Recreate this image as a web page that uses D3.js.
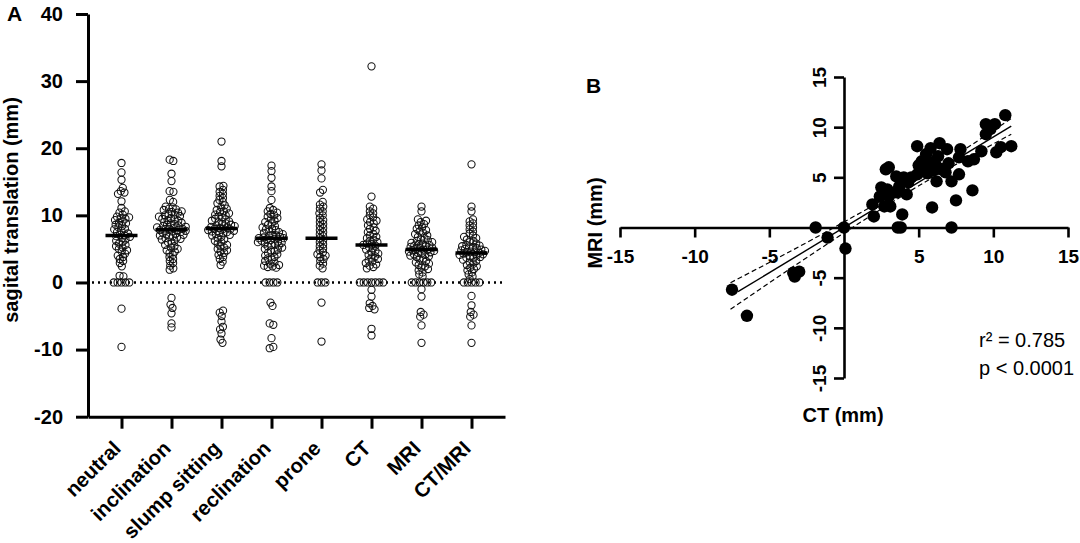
<!DOCTYPE html>
<html>
<head>
<meta charset="utf-8">
<script src="https://cdn.jsdelivr.net/npm/d3@7"></script>
<style>
  body { margin: 0; background: #fff; }
  svg { display: block; font-family: "Liberation Sans", Arial, sans-serif; }
</style>
</head>
<body>
<svg id="chart" width="1080" height="543"></svg>
<script>
// ---- panel A: sagittal translation per position ----
var groups = ["neutral", "inclination", "slump sitting", "reclination", "prone", "CT", "MRI", "CT/MRI"];

var neutral = [17.8, 16.4, 15.3, 14.1, 13.6, 13.4, 13.2, 12.1, 11.1, 10.6, 10.4, 10.1, 9.8, 9.7, 9.6, 9.5, 9.3, 9.1,
  8.9, 8.8, 8.6, 8.4, 8.2, 8.0, 7.9, 7.7, 7.5, 7.3, 7.1, 7.0, 6.9, 6.8, 6.6, 6.4, 6.2, 6.0, 5.8, 5.6, 5.4, 5.2,
  5.0, 4.8, 4.6, 4.3, 4.0, 3.8, 3.5, 3.2, 2.9, 2.4, 1.0, 0.9, 0, 0, 0, 0, 0, -3.9, -9.6];
var inclination = [18.3, 18.1, 16.2, 15.1, 13.6, 13.5, 12.3, 12.0, 11.3, 11.2, 11.0, 10.9, 10.8, 10.6, 10.5, 10.4,
  10.2, 10.1, 10.0, 9.9, 9.8, 9.6, 9.5, 9.4, 9.3, 9.2, 9.0, 8.9, 8.8, 8.7, 8.6, 8.5, 8.4, 8.3, 8.2, 8.1, 8.0, 8.0,
  7.9, 7.8, 7.8, 7.7, 7.6, 7.5, 7.4, 7.3, 7.2, 7.1, 7.0, 6.9, 6.8, 6.7, 6.6, 6.5, 6.4, 6.2, 6.0, 5.8, 5.6, 5.4,
  5.2, 5.0, 4.8, 4.6, 4.4, 4.1, 3.8, 3.5, 3.2, 2.9, 2.5, 2.1, 1.9, -2.3, -3.3, -3.8, -4.6, -6.1, -6.7];
var slump = [21.0, 18.1, 17.3, 14.4, 14.3, 13.8, 13.5, 13.2, 12.9, 12.6, 12.3, 12.0, 11.8, 11.5, 11.2, 11.0, 10.8,
  10.6, 10.5, 10.3, 10.1, 10.0, 9.8, 9.7, 9.5, 9.4, 9.2, 9.1, 9.0, 8.8, 8.7, 8.6, 8.5, 8.4, 8.3, 8.2, 8.1, 8.0,
  8.0, 7.9, 7.8, 7.7, 7.6, 7.5, 7.4, 7.3, 7.2, 7.1, 7.0, 6.8, 6.6, 6.4, 6.2, 6.0, 5.8, 5.6, 5.4, 5.2, 5.0, 4.8,
  4.6, 4.4, 4.1, 3.8, 3.5, 3.1, 2.6, -4.2, -4.5, -5.0, -5.8, -6.6, -7.0, -7.6, -8.5, -9.0];
var reclination = [17.4, 16.6, 15.6, 14.3, 13.6, 12.3, 11.1, 10.8, 10.6, 10.4, 10.2, 10.0, 9.8, 9.6, 9.4, 9.2, 9.0,
  8.8, 8.6, 8.4, 8.2, 8.0, 7.9, 7.8, 7.6, 7.5, 7.4, 7.2, 7.1, 7.0, 6.9, 6.8, 6.7, 6.6, 6.6, 6.5, 6.4, 6.3, 6.2,
  6.1, 6.0, 5.9, 5.8, 5.7, 5.6, 5.5, 5.4, 5.2, 5.0, 4.9, 4.8, 4.6, 4.4, 4.2, 4.0, 3.8, 3.6, 3.4, 3.2, 3.0, 2.8,
  2.6, 2.5, 2.4, 2.3, 2.2, 0, 0, 0, 0, -3.0, -3.5, -6.1, -6.3, -8.3, -9.6, -9.8];
var prone = [17.6, 16.7, 15.5, 13.8, 13.4, 12.0, 11.6, 11.3, 11.0, 10.6, 10.3, 10.0, 9.6, 9.3, 9.0, 8.7, 8.4, 8.1,
  7.8, 7.5, 7.2, 6.9, 6.6, 6.3, 6.0, 5.7, 5.4, 5.1, 4.8, 4.5, 4.2, 4.0, 3.8, 3.5, 3.2, 2.8, 2.5, 2.1, 0, 0, 0,
  -3.0, -8.8];
var ct = [32.2, 12.8, 11.3, 11.0, 10.6, 10.3, 10.0, 9.7, 9.4, 9.2, 9.0, 8.8, 8.5, 8.2, 8.0, 7.7, 7.5, 7.2, 7.0, 6.8,
  6.6, 6.4, 6.2, 6.0, 5.8, 5.7, 5.6, 5.5, 5.3, 5.1, 4.9, 4.7, 4.5, 4.3, 4.1, 3.9, 3.7, 3.5, 3.3, 3.1, 2.9, 2.7,
  2.5, 2.3, 2.1, 0, 0, 0, 0, 0, 0, 0, -1.1, -2.1, -3.1, -3.5, -3.8, -4.0, -6.9, -7.9];
var mri = [11.3, 10.6, 9.4, 9.2, 9.0, 8.7, 8.5, 8.2, 8.0, 7.8, 7.6, 7.4, 7.2, 7.0, 6.8, 6.6, 6.4, 6.3, 6.2, 6.0,
  5.9, 5.8, 5.7, 5.6, 5.5, 5.4, 5.3, 5.2, 5.1, 5.0, 4.9, 4.9, 4.8, 4.7, 4.6, 4.5, 4.4, 4.3, 4.2, 4.1, 4.0, 3.9,
  3.8, 3.6, 3.4, 3.2, 3.0, 2.8, 2.6, 2.4, 2.2, 2.0, 1.8, 1.5, 1.2, 0.9, 0, 0, 0, 0, 0, 0, -1.0, -2.1, -4.4,
  -4.8, -5.1, -6.4, -9.0];
var ctMri = [17.6, 11.3, 10.6, 9.4, 9.1, 8.8, 8.5, 8.2, 7.9, 7.6, 7.3, 7.0, 6.8, 6.6, 6.4, 6.2, 6.0, 5.8, 5.6, 5.5,
  5.4, 5.3, 5.2, 5.1, 5.0, 4.9, 4.8, 4.7, 4.6, 4.5, 4.5, 4.4, 4.3, 4.2, 4.1, 4.0, 3.9, 3.8, 3.7, 3.6, 3.4, 3.2,
  3.0, 2.8, 2.6, 2.4, 2.2, 2.0, 1.8, 1.5, 1.2, 0.9, 0.5, 0, 0, 0, 0, 0, -2.0, -3.4, -4.4, -4.8, -5.1, -6.4, -9.0];

var groupValues = [neutral, inclination, slump, reclination, prone, ct, mri, ctMri];
var medians = [7.0, 7.85, 8.05, 6.6, 6.6, 5.6, 4.9, 4.4];
var yTicksA = [40, 30, 20, 10, 0, -10, -20];

// ---- panel B: CT vs MRI ----
var ctX = [-7.5, -6.5, -3.4, -3.0, -3.3, -1.9, -1.1, 0, 0.1,
  2.0, 1.9, 2.7, 3.1, 2.4, 3.0, 3.5, 4.2, 2.5, 2.9, 3.7, 4.3, 3.5, 4.0, 4.5, 4.9, 2.8, 3.0, 3.9, 3.6, 3.8, 7.2,
  5.9, 7.5, 8.6,
  4.9, 5.2, 5.5, 5.7, 6.0, 6.2, 6.5, 6.8, 5.6, 6.0, 6.4, 5.8, 6.9, 6.3, 7.8, 7.7, 8.3, 8.7, 7.7, 7.2, 6.2, 5.5,
  7.0, 5.0,
  9.2, 10.2, 10.5, 11.2, 9.5, 9.5, 10.1, 10.8, 9.8];
var mriY = [-6.2, -8.8, -4.5, -4.4, -4.9, 0, -1.0, 0, -2.1,
  1.1, 2.3, 2.1, 2.1, 3.1, 3.1, 3.5, 3.3, 4.0, 3.8, 4.1, 4.5, 5.1, 5.0, 5.0, 5.3, 5.8, 6.0, 1.3, 0, 0, 0,
  2.0, 2.7, 3.7,
  8.1, 6.6, 5.9, 6.3, 6.5, 6.1, 5.8, 5.5, 5.4, 5.7, 8.4, 7.9, 7.8, 7.1, 7.8, 7.0, 6.6, 6.8, 5.3, 4.6, 4.6, 7.3,
  6.4, 6.2,
  7.6, 7.5, 8.0, 8.1, 9.3, 10.3, 10.3, 11.2, 9.8];

var fitX = [-7.1, 11.2];
var fitY = [-6.4, 10.1];
var bandX = [-7.6, -4, 0, 4.5, 8, 11.2];
var bandUpper = [-5.5, -2.7, 0.55, 4.4, 7.7, 10.85];
var bandLower = [-8.15, -4.5, -0.55, 3.7, 6.7, 9.3];
var ticksB = [-15, -10, -5, 5, 10, 15];

var FONT = "Liberation Sans, Arial, sans-serif";

document.addEventListener('DOMContentLoaded', function () {
  drawA();
  drawB();
}, false);

function plain(d) { return String(d); }

function drawA() {
  var svg = d3.select("#chart");
  var g = svg.append("g");

  var y = d3.scaleLinear().domain([-20, 40]).range([416.7, 14]);
  var x = d3.scalePoint().domain(groups).range([88, 505]).padding(0.67);

  // y axis
  var ay = g.append("g")
    .attr("transform", "translate(88,0)")
    .call(d3.axisLeft(y).tickValues(yTicksA).tickFormat(plain).tickSize(12).tickSizeOuter(0).tickPadding(13));
  ay.selectAll("path, line").attr("stroke", "#000").attr("stroke-width", 3);
  ay.selectAll("text").attr("font-size", 20).attr("font-weight", "bold").attr("fill", "#000")
    .attr("font-family", FONT);

  // x axis
  var ax = g.append("g")
    .attr("transform", "translate(0,416.7)")
    .call(d3.axisBottom(x).tickSize(12).tickSizeOuter(0));
  ax.selectAll("path, line").attr("stroke", "#000").attr("stroke-width", 3);
  ax.selectAll("text")
    .attr("font-size", 20.5).attr("font-weight", "bold").attr("fill", "#000")
    .attr("font-family", FONT)
    .attr("text-anchor", "end")
    .attr("y", null).attr("dy", null)
    .attr("transform", "translate(0,33) rotate(-45)");

  // dotted zero line
  g.append("line")
    .attr("x1", 92).attr("x2", 505)
    .attr("y1", y(0)).attr("y2", y(0))
    .attr("stroke", "#000").attr("stroke-width", 2.6)
    .attr("stroke-dasharray", "2,4");

  // swarms
  groups.forEach(function (name, i) {
    var cx = x(name);
    var nodes = groupValues[i].map(function (v, j) {
      return { v: v, x: cx + ((j % 2) ? 1 : -1) * (j % 7) * 0.5, y: y(v), fy: y(v) };
    });
    var sim = d3.forceSimulation(nodes)
      .force("x", d3.forceX(cx).strength(0.1))
      .force("collide", d3.forceCollide(1.95).iterations(3))
      .stop();
    for (var k = 0; k < 300; k++) sim.tick();

    g.append("g").selectAll("circle")
      .data(nodes)
      .enter()
      .append("circle")
      .attr("cx", function (d) { return d.x; })
      .attr("cy", function (d) { return y(d.v); })
      .attr("r", 3.6)
      .attr("fill", "none")
      .attr("stroke", "#111")
      .attr("stroke-width", 1.05);

    g.append("line")
      .attr("x1", cx - 16).attr("x2", cx + 16)
      .attr("y1", y(medians[i])).attr("y2", y(medians[i]))
      .attr("stroke", "#000").attr("stroke-width", 3.5);
  });

  g.append("text")
    .attr("transform", "translate(18,210) rotate(-90)")
    .attr("text-anchor", "middle")
    .attr("font-size", 20).attr("font-weight", "bold")
    .text("sagital translation (mm)");

  g.append("text")
    .attr("x", 7).attr("y", 21)
    .attr("font-size", 21).attr("font-weight", "bold")
    .text("A");
}

function drawB() {
  var svg = d3.select("#chart");
  var g = svg.append("g");

  var x = d3.scaleLinear().domain([-15, 15]).range([620, 1068]);
  var y = d3.scaleLinear().domain([-15, 15]).range([378, 77]);

  var ax = g.append("g")
    .attr("transform", "translate(0," + y(0) + ")")
    .call(d3.axisBottom(x).tickValues(ticksB).tickFormat(plain).tickSize(10).tickSizeOuter(0).tickPadding(12));
  ax.selectAll("path, line").attr("stroke", "#000").attr("stroke-width", 2.6);
  ax.selectAll("text").attr("font-size", 19).attr("font-weight", "bold").attr("fill", "#000")
    .attr("font-family", FONT);

  var ay = g.append("g")
    .attr("transform", "translate(" + x(0) + ",0)")
    .call(d3.axisLeft(y).tickValues(ticksB).tickFormat(plain).tickSize(10).tickSizeOuter(0));
  ay.selectAll("path, line").attr("stroke", "#000").attr("stroke-width", 2.6);
  ay.selectAll("text").attr("font-size", 19).attr("font-weight", "bold").attr("fill", "#000")
    .attr("font-family", FONT)
    .attr("x", null).attr("dy", "0.35em")
    .attr("text-anchor", "middle")
    .attr("transform", "translate(-25,0) rotate(-90)");

  // confidence bands
  var band = d3.line().curve(d3.curveNatural);
  g.append("path")
    .attr("d", band(bandX.map(function (v, i) { return [x(v), y(bandUpper[i])]; })))
    .attr("fill", "none").attr("stroke", "#000").attr("stroke-width", 1.2)
    .attr("stroke-dasharray", "5,3");
  g.append("path")
    .attr("d", band(bandX.map(function (v, i) { return [x(v), y(bandLower[i])]; })))
    .attr("fill", "none").attr("stroke", "#000").attr("stroke-width", 1.2)
    .attr("stroke-dasharray", "5,3");

  // regression line
  g.append("line")
    .attr("x1", x(fitX[0])).attr("y1", y(fitY[0]))
    .attr("x2", x(fitX[1])).attr("y2", y(fitY[1]))
    .attr("stroke", "#000").attr("stroke-width", 1.4);

  g.append("g").selectAll("circle")
    .data(ctX)
    .enter()
    .append("circle")
    .attr("cx", function (d) { return x(d); })
    .attr("cy", function (d, i) { return y(mriY[i]); })
    .attr("r", 6.2)
    .attr("fill", "#000");

  g.append("text")
    .attr("x", 843).attr("y", 422)
    .attr("text-anchor", "middle")
    .attr("font-size", 20).attr("font-weight", "bold")
    .text("CT (mm)");

  g.append("text")
    .attr("transform", "translate(602,223) rotate(-90)")
    .attr("text-anchor", "middle")
    .attr("font-size", 20).attr("font-weight", "bold")
    .text("MRI (mm)");

  g.append("text")
    .attr("x", 979).attr("y", 347)
    .attr("font-size", 20)
    .text("r² = 0.785");
  g.append("text")
    .attr("x", 979).attr("y", 375)
    .attr("font-size", 20)
    .text("p < 0.0001");

  g.append("text")
    .attr("x", 586).attr("y", 93)
    .attr("font-size", 21).attr("font-weight", "bold")
    .text("B");
}
</script>
</body>
</html>
